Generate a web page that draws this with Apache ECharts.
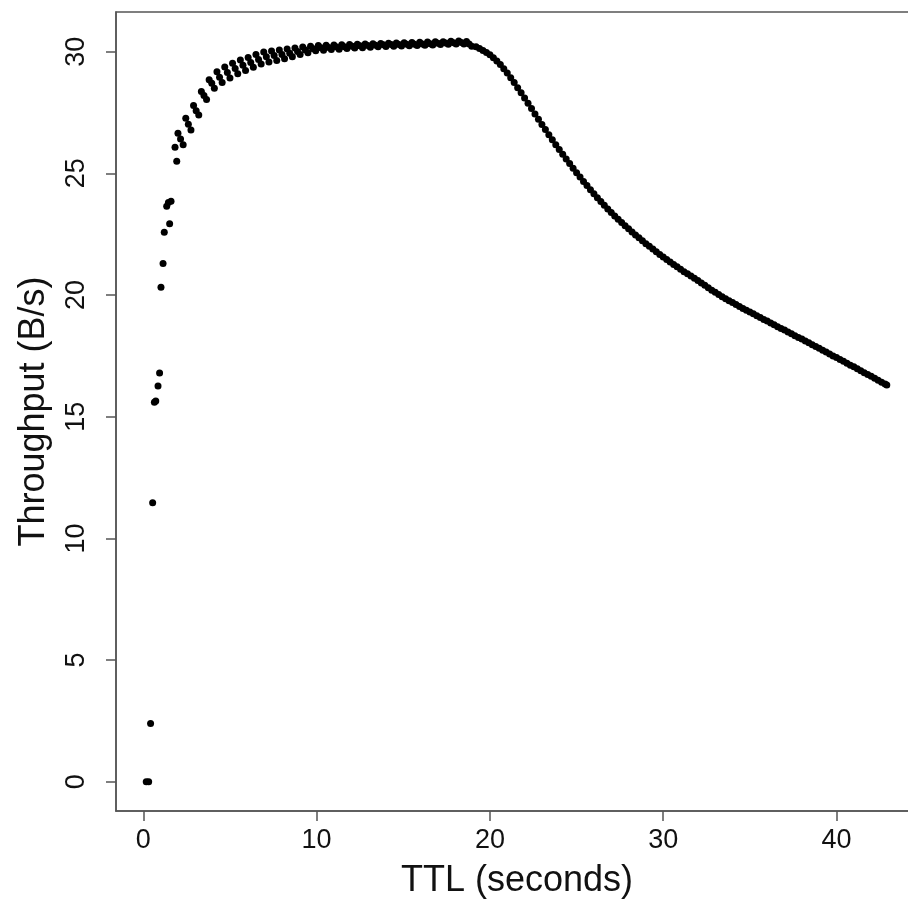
<!DOCTYPE html>
<html>
<head>
<meta charset="utf-8">
<script src="https://cdn.jsdelivr.net/npm/echarts@6.0.0/dist/echarts.min.js"></script>
<style>
html, body { margin: 0; padding: 0; background: #fff; }
#chart { width: 908px; height: 905px; }
</style>
</head>
<body>
<div id="chart"></div>
<script>
// early steep rise (TTL < 2 s)
var ttlRise = [0.17, 0.31, 0.42, 0.54, 0.64, 0.72, 0.85, 0.94, 1.02, 1.14, 1.21, 1.35, 1.45, 1.52, 1.6, 1.83, 1.93];
var tputRise = [0, 0, 2.4, 11.47, 15.6, 15.65, 16.26, 16.8, 20.32, 21.3, 22.58, 23.65, 23.8, 22.93, 23.85, 26.07, 25.5];

// zigzag band up to the plateau (2 .. 19 s)
var ttlPlateau = [2.00, 2.15, 2.30, 2.45, 2.60, 2.75, 2.90, 3.05, 3.20, 3.35,
	3.50, 3.65, 3.80, 3.95, 4.10, 4.25, 4.40, 4.55, 4.70, 4.85,
	5.00, 5.15, 5.30, 5.45, 5.60, 5.75, 5.90, 6.05, 6.20, 6.35,
	6.50, 6.65, 6.80, 6.95, 7.10, 7.25, 7.40, 7.55, 7.70, 7.85,
	8.00, 8.15, 8.30, 8.45, 8.60, 8.75, 8.90, 9.05, 9.20, 9.35,
	9.50, 9.65, 9.80, 9.95, 10.10, 10.25, 10.40, 10.55, 10.70, 10.85,
	11.00, 11.15, 11.30, 11.45, 11.60, 11.75, 11.90, 12.05, 12.20, 12.35,
	12.50, 12.65, 12.80, 12.95, 13.10, 13.25, 13.40, 13.55, 13.70, 13.85,
	14.00, 14.15, 14.30, 14.45, 14.60, 14.75, 14.90, 15.05, 15.20, 15.35,
	15.50, 15.65, 15.80, 15.95, 16.10, 16.25, 16.40, 16.55, 16.70, 16.85,
	17.00, 17.15, 17.30, 17.45, 17.60, 17.75, 17.90, 18.05, 18.20, 18.35,
	18.50, 18.65, 18.80, 18.95];
var tputPlateau = [26.65, 26.41, 26.18, 27.26, 27.02, 26.78, 27.79, 27.57, 27.40, 28.36,
	28.2, 28.03, 28.85, 28.7, 28.5, 29.18, 28.95, 28.73, 29.37, 29.14,
	28.92, 29.52, 29.31, 29.09, 29.66, 29.44, 29.23, 29.76, 29.56, 29.36,
	29.88, 29.68, 29.49, 29.99, 29.79, 29.58, 30.03, 29.84, 29.64, 30.07,
	29.88, 29.71, 30.11, 29.94, 29.79, 30.15, 30.01, 29.88, 30.19, 30.07,
	29.96, 30.22, 30.12, 30.04, 30.25, 30.16, 30.06, 30.26, 30.17, 30.09,
	30.27, 30.19, 30.10, 30.28, 30.2, 30.13, 30.29, 30.22, 30.15, 30.31,
	30.24, 30.16, 30.32, 30.25, 30.18, 30.33, 30.26, 30.2, 30.34, 30.28,
	30.21, 30.35, 30.29, 30.22, 30.36, 30.29, 30.23, 30.37, 30.3, 30.24,
	30.38, 30.31, 30.25, 30.39, 30.32, 30.26, 30.40, 30.33, 30.27, 30.41,
	30.35, 30.29, 30.41, 30.36, 30.3, 30.43, 30.37, 30.32, 30.44, 30.38,
	30.32, 30.42, 30.32, 30.22];

// decay after ~19 s
var ttlDecay = [19.2, 19.4, 19.6, 19.8, 20.0, 20.2, 20.4, 20.6, 20.8, 21.0,
	21.2, 21.4, 21.6, 21.8, 22.0, 22.2, 22.4, 22.6, 22.8, 23.0,
	23.2, 23.4, 23.6, 23.8, 24.0, 24.2, 24.4, 24.6, 24.8, 25.0,
	25.2, 25.4, 25.6, 25.8, 26.0, 26.2, 26.4, 26.6, 26.8, 27.0,
	27.2, 27.4, 27.6, 27.8, 28.0, 28.2, 28.4, 28.6, 28.8, 29.0,
	29.2, 29.4, 29.6, 29.8, 30.0, 30.2, 30.4, 30.6, 30.8, 31.0,
	31.2, 31.4, 31.6, 31.8, 32.0, 32.2, 32.4, 32.6, 32.8, 33.0,
	33.2, 33.4, 33.6, 33.8, 34.0, 34.2, 34.4, 34.6, 34.8, 35.0,
	35.2, 35.4, 35.6, 35.8, 36.0, 36.2, 36.4, 36.6, 36.8, 37.0,
	37.2, 37.4, 37.6, 37.8, 38.0, 38.2, 38.4, 38.6, 38.8, 39.0,
	39.2, 39.4, 39.6, 39.8, 40.0, 40.2, 40.4, 40.6, 40.8, 41.0,
	41.2, 41.4, 41.6, 41.8, 42.0, 42.2, 42.4, 42.6, 42.8, 42.9];
var tputDecay = [30.2, 30.13, 30.05, 29.97, 29.87, 29.75, 29.62, 29.47, 29.3, 29.12,
	28.93, 28.73, 28.52, 28.31, 28.1, 27.88, 27.66, 27.44, 27.22, 27.01,
	26.8, 26.59, 26.38, 26.18, 25.98, 25.78, 25.59, 25.4, 25.21, 25.03,
	24.85, 24.67, 24.5, 24.33, 24.16, 24.0, 23.84, 23.69, 23.54, 23.39,
	23.25, 23.11, 22.98, 22.85, 22.72, 22.59, 22.47, 22.35, 22.23, 22.11,
	22.0, 21.89, 21.78, 21.67, 21.56, 21.46, 21.36, 21.26, 21.16, 21.06,
	20.96, 20.87, 20.78, 20.69, 20.6, 20.5, 20.4, 20.3, 20.2, 20.11,
	20.02, 19.93, 19.85, 19.77, 19.69, 19.61, 19.53, 19.45, 19.38, 19.3,
	19.23, 19.15, 19.08, 19.0, 18.93, 18.85, 18.78, 18.7, 18.63, 18.56,
	18.48, 18.41, 18.33, 18.26, 18.19, 18.11, 18.04, 17.96, 17.89, 17.81,
	17.73, 17.66, 17.58, 17.5, 17.43, 17.35, 17.28, 17.2, 17.12, 17.05,
	16.97, 16.89, 16.81, 16.74, 16.66, 16.58, 16.5, 16.42, 16.34, 16.3];

var xTicks = [0, 10, 20, 30, 40];
var yTicks = [0, 5, 10, 15, 20, 25, 30];

var myChart = echarts.init(document.getElementById('chart'));

function toPoints(xs, ys) {
	var pts = [];
	for (var i = 0; i < xs.length; i++) {
		pts.push([xs[i], ys[i]]);
	}
	return pts;
}

var points = toPoints(ttlRise, tputRise)
	.concat(toPoints(ttlPlateau, tputPlateau))
	.concat(toPoints(ttlDecay, tputDecay));

var font = 'Liberation Sans, Arial, Helvetica, sans-serif';
var lineColor = '#555';

var option = {
	animation: false,
	backgroundColor: '#fff',
	grid: {
		left: 116,
		top: 12,
		right: -10,
		bottom: 94,
		show: true,
		borderColor: lineColor,
		borderWidth: 1.5,
		outerBoundsMode: 'none'
	},
	xAxis: {
		type: 'value',
		min: -1.575,
		max: 44.7,
		name: 'TTL (seconds)',
		nameLocation: 'middle',
		nameGap: 52,
		nameTextStyle: { fontFamily: font, fontSize: 36, color: '#111' },
		axisLine: { show: true, onZero: false, lineStyle: { color: lineColor, width: 1.5 } },
		axisTick: { show: true, length: 10, customValues: xTicks, lineStyle: { color: lineColor, width: 1.5 } },
		axisLabel: { customValues: xTicks, margin: 16, fontFamily: font, fontSize: 27, color: '#111' },
		splitLine: { show: false }
	},
	yAxis: {
		type: 'value',
		min: -1.2,
		max: 31.63,
		name: 'Throughput (B/s)',
		nameLocation: 'middle',
		nameRotate: 90,
		nameGap: 64,
		nameTextStyle: { fontFamily: font, fontSize: 36, color: '#111' },
		axisLine: { show: true, onZero: false, lineStyle: { color: lineColor, width: 1.5 } },
		axisTick: { show: true, length: 10, customValues: yTicks, lineStyle: { color: lineColor, width: 1.5 } },
		axisLabel: { customValues: yTicks, rotate: 90, margin: 26, fontFamily: font, fontSize: 27, color: '#111' },
		splitLine: { show: false }
	},
	series: [{
		type: 'scatter',
		data: points,
		symbol: 'circle',
		symbolSize: 7,
		itemStyle: { color: '#000', opacity: 1 }
	}]
};

myChart.setOption(option);
</script>
</body>
</html>
